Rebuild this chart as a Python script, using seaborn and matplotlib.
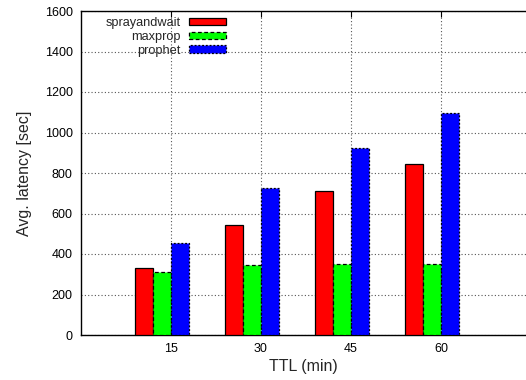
import matplotlib
matplotlib.use("Agg")
import matplotlib.pyplot as plt
import seaborn as sns
import pandas as pd

ttl = ["15", "30", "45", "60"]
sprayandwait = [332, 542, 710, 846]
maxprop = [313, 344, 350, 353]
prophet = [452, 727, 922, 1094]
series_names = ["sprayandwait", "maxprop", "prophet"]
yticks = [0, 200, 400, 600, 800, 1000, 1200, 1400, 1600]

rows = []
for name, vals in zip(series_names, [sprayandwait, maxprop, prophet]):
    for t, v in zip(ttl, vals):
        rows.append({"TTL": t, "latency": v, "protocol": name})
df = pd.DataFrame(rows)

sns.set_style("white")
plt.rcParams["font.family"] = ["Liberation Sans", "DejaVu Sans"]

W, H = 526, 380
fig = plt.figure(figsize=(W / 100, H / 100), dpi=100)
ax = fig.add_axes([81 / W, (H - 335) / H, (W - 81) / W, 324 / H])

sns.barplot(data=df, x="TTL", y="latency", hue="protocol", order=ttl,
            hue_order=series_names, palette=["#ff0000", "#00ff00", "#0000ff"],
            width=0.6, saturation=1, ax=ax, legend=False, errorbar=None)

styles = ["solid", (0, (3, 2)), (0, (1.5, 1.5))]
for cont, ls in zip(ax.containers, styles):
    for p in cont.patches:
        p.set_edgecolor("black")
        p.set_linewidth(0.9)
        p.set_linestyle(ls)
        p.set_zorder(3)

# ticks sit at the boundary between 2nd and 3rd bar (gnuplot style)
tick_pos = [i + 0.1 for i in range(len(ttl))]
ax.set_xticks(tick_pos)
ax.set_xticklabels(ttl)
ax.set_xlim(-0.9, 0.1 + 3 + (W - 441) / 90)
ax.set_ylim(0, 1600)
ax.set_yticks(yticks)

ax.grid(True, color="#555555", linestyle=(0, (1, 2)), linewidth=0.8, zorder=0)
ax.set_axisbelow(True)
for s in ["left", "bottom", "top"]:
    ax.spines[s].set_color("black")
    ax.spines[s].set_linewidth(1.0)
ax.spines["right"].set_visible(False)
ax.tick_params(direction="in", length=4, width=0.8, top=True, labelsize=9,
               colors="black", pad=6)

ax.set_xlabel("TTL (min)", fontsize=11.5, labelpad=3)
ax.set_ylabel("Avg. latency [sec]", fontsize=11.5, labelpad=9)

handles = [cont.patches[0] for cont in ax.containers]
leg = ax.legend(handles, series_names, loc="upper right", markerfirst=False,
                bbox_to_anchor=(226 / W, 1 - 17 / H), bbox_transform=fig.transFigure,
                frameon=False, fontsize=9.2, handlelength=2.9, handleheight=0.55,
                handletextpad=0.65, labelspacing=0.15, borderpad=0, borderaxespad=0)

fig.savefig("out.png", dpi=100)
